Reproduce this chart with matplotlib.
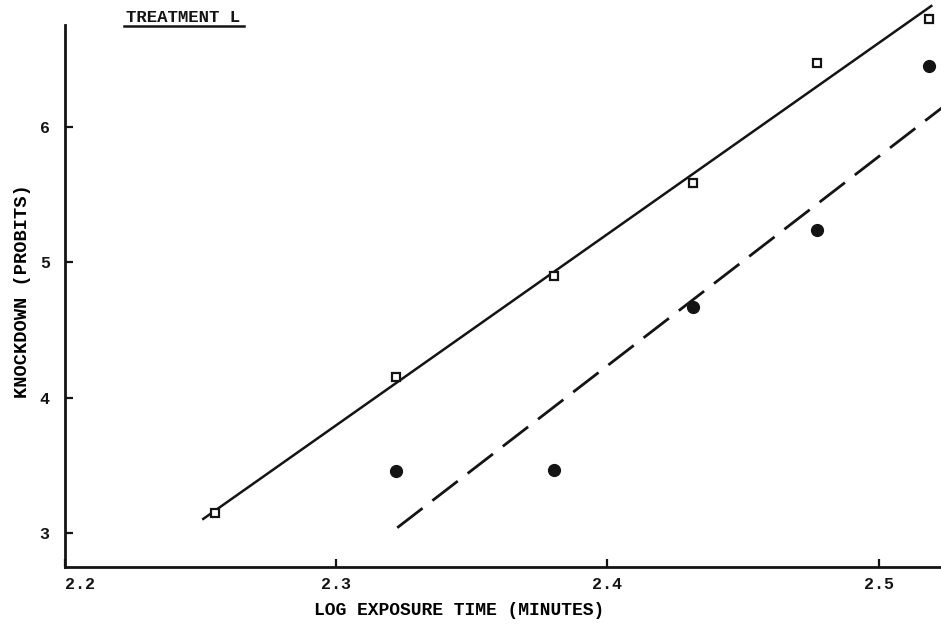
import matplotlib
matplotlib.use("Agg")
import matplotlib.pyplot as plt

# Log exposure times (log10 of minutes) and knockdown probits
log_time = [2.2553, 2.3222, 2.3802, 2.4314, 2.4771, 2.5185]
probit_open = [3.15, 4.15, 4.90, 5.59, 6.47, 6.80]

log_time_filled = [2.3222, 2.3802, 2.4314, 2.4771, 2.5185]
probit_filled = [3.46, 3.47, 4.67, 5.24, 6.45]

# Fitted regression lines (end points)
fit_open_x = [2.2506, 2.5198]
fit_open_y = [3.10, 6.90]
fit_filled_x = [2.3225, 2.5232]
fit_filled_y = [3.04, 6.14]

x_ticks = [2.2, 2.3, 2.4, 2.5]
x_tick_labels = ["2.2", "2.3", "2.4", "2.5"]
y_ticks = [3, 4, 5, 6]
y_tick_labels = ["3", "4", "5", "6"]

FAMILY = ["Liberation Mono", "DejaVu Sans Mono"]
font = {"family": FAMILY, "weight": "bold"}
INK = "#141414"

fig = plt.figure(figsize=(9.41, 6.25), dpi=100)
ax = fig.add_axes([65 / 941, 58 / 625, 876 / 941, 542 / 625])

ax.plot(fit_open_x, fit_open_y, color=INK, lw=1.8, solid_capstyle="butt",
        clip_on=False)
ax.plot(fit_filled_x, fit_filled_y, color=INK, lw=2.0,
        dashes=(11.5, 4.5), dash_capstyle="butt", clip_on=False)
ax.plot(log_time, probit_open, linestyle="none", marker="s", ms=6,
        mfc="white", mec=INK, mew=1.6, clip_on=False)
ax.plot(log_time_filled, probit_filled, linestyle="none", marker="o", ms=8.5,
        mfc=INK, mec=INK, clip_on=False)

ax.set_xlim(2.2, 2.523)
ax.set_ylim(2.75, 6.754)

for side in ("top", "right"):
    ax.spines[side].set_visible(False)
for side in ("left", "bottom"):
    ax.spines[side].set_linewidth(2.0)
    ax.spines[side].set_color(INK)

ax.set_xticks(x_ticks)
ax.set_xticklabels(x_tick_labels, fontdict=font, fontsize=12)
ax.set_yticks(y_ticks)
ax.set_yticklabels(y_tick_labels, fontdict=font, fontsize=12)
ax.tick_params(axis="both", direction="in", length=6, width=1.6, colors=INK)
ax.tick_params(axis="x", pad=7)
ax.tick_params(axis="y", pad=11)
ax.get_xticklabels()[0].set_horizontalalignment("left")

ax.set_xlabel("LOG EXPOSURE TIME (MINUTES)", fontdict=font, fontsize=13)
ax.xaxis.set_label_coords((459 - 65) / 876, -(602 - 567) / 542)
ax.set_ylabel("KNOCKDOWN (PROBITS)", fontdict=font, fontsize=13.5)
ax.yaxis.set_label_coords(-(65 - 31) / 876, (567 - 291) / 542)

fig.text(183 / 941, 1 - 17 / 625, "TREATMENT L", ha="center", va="center",
         fontsize=12.5, fontweight="bold", family=FAMILY, color=INK)
fig.add_artist(plt.Line2D([124 / 941, 244 / 941], [1 - 26 / 625, 1 - 26 / 625],
                          color=INK, lw=1.8))

fig.savefig("out.png", dpi=100, facecolor="white")
